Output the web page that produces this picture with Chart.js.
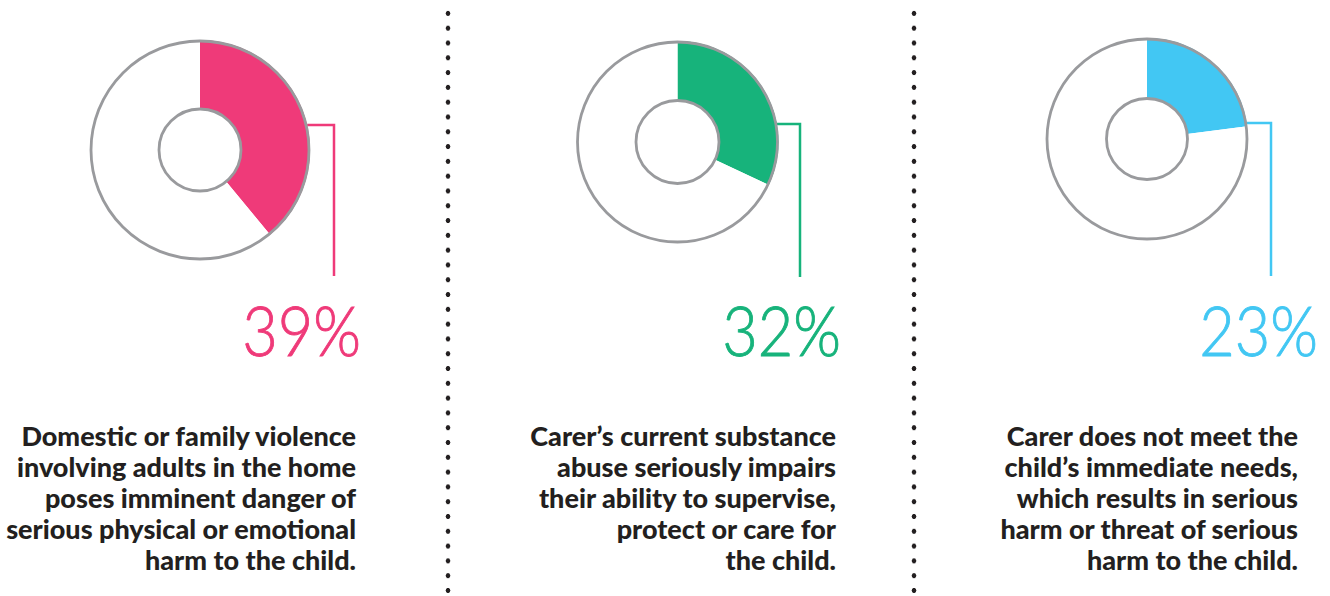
<!DOCTYPE html>
<html>
<head>
<meta charset="utf-8">
<script src="https://cdn.jsdelivr.net/npm/chart.js@4"></script>
<style>
  html, body { margin: 0; padding: 0; background: #fff; }
  body { width: 1330px; height: 596px; position: relative; overflow: hidden; }
  canvas { position: absolute; top: 0; }
  .pct {
    position: absolute; font-family: Lato, sans-serif; font-weight: 300;
    font-size: 68px; line-height: 68px; white-space: nowrap;
    -webkit-text-stroke: 0.9px currentColor;
    transform: scaleX(0.9); transform-origin: right center; text-align: right;
  }
  .desc {
    position: absolute; font-family: Lato, sans-serif; font-weight: 900;
    font-size: 27px; line-height: 31px; color: #231f20;
    white-space: pre-line; text-align: right;
  }
  .dots {
    position: absolute; top: 6px; width: 8px; height: 590px;
    background-image: radial-gradient(circle, #231f20 2.1px, transparent 2.7px);
    background-size: 8px 14.8px;
  }
</style>
</head>
<body>
<div class="dots" style="left:444px"></div>
<div class="dots" style="left:910px"></div>
<script>
const categories = [
  'Domestic or family violence\ninvolving adults in the home\nposes imminent danger of\nserious physical or emotional\nharm to the child.',
  'Carer\u2019s current substance\nabuse seriously impairs\ntheir ability to supervise,\nprotect or care for\nthe child.',
  'Carer does not meet the\nchild\u2019s immediate needs,\nwhich results in serious\nharm or threat of serious\nharm to the child.'
];
const percentages = [39, 32, 23];
const sliceColors = ['#ef3a79', '#17b37b', '#42c7f3'];

// panel layout: donut centre/radius, leader line, text anchors
const panels = [
  { left: 0,   width: 440, cx: 200,   cy: 150, r: 110, hole: 41,   leaderY: 125, leaderX: 334,  leaderEnd: 276, pctRight: 969, descRight: 974 },
  { left: 460, width: 440, cx: 677.5, cy: 142, r: 101, hole: 41.5, leaderY: 124, leaderX: 800,  leaderEnd: 277, pctRight: 489, descRight: 494 },
  { left: 925, width: 405, cx: 1147,  cy: 139, r: 101, hole: 40.5, leaderY: 123, leaderX: 1271, leaderEnd: 276, pctRight: 12,  descRight: 32 }
];
const canvasH = 300;
const ringGrey = '#999a9d';

const ringPlugin = {
  id: 'ringOutline',
  afterDatasetsDraw(chart, args, opts) {
    const arc = chart.getDatasetMeta(0).data[0];
    const ctx = chart.ctx;
    const x = arc.x, y = arc.y;
    ctx.save();
    // leader line from outer edge to the value
    const dy = y - opts.leaderY;
    const sx = x + Math.sqrt(arc.outerRadius * arc.outerRadius - dy * dy);
    ctx.strokeStyle = opts.color;
    ctx.lineWidth = 2.5;
    ctx.beginPath();
    ctx.moveTo(sx, opts.leaderY);
    ctx.lineTo(opts.leaderX, opts.leaderY);
    ctx.lineTo(opts.leaderX, opts.leaderEnd);
    ctx.stroke();
    // outer and inner circles
    ctx.strokeStyle = ringGrey;
    ctx.lineWidth = 2.8;
    ctx.beginPath();
    ctx.arc(x, y, arc.outerRadius - 1, 0, Math.PI * 2);
    ctx.stroke();
    ctx.beginPath();
    ctx.arc(x, y, arc.innerRadius, 0, Math.PI * 2);
    ctx.stroke();
    ctx.restore();
  }
};

panels.forEach((p, i) => {
  const canvas = document.createElement('canvas');
  canvas.width = p.width;
  canvas.height = canvasH;
  canvas.style.left = p.left + 'px';
  document.body.appendChild(canvas);

  const localX = p.cx - p.left;
  new Chart(canvas.getContext('2d'), {
    type: 'doughnut',
    data: {
      labels: [categories[i], ''],
      datasets: [{
        data: [percentages[i], 100 - percentages[i]],
        backgroundColor: [sliceColors[i], '#ffffff'],
        borderWidth: 0
      }]
    },
    options: {
      responsive: false,
      devicePixelRatio: 1,
      animation: false,
      events: [],
      cutout: p.hole,
      layout: {
        padding: {
          left: localX - p.r,
          right: p.width - localX - p.r,
          top: p.cy - p.r,
          bottom: canvasH - p.cy - p.r
        }
      },
      plugins: {
        legend: { display: false },
        tooltip: { enabled: false },
        ringOutline: {
          color: sliceColors[i],
          leaderY: p.leaderY,
          leaderX: p.leaderX - p.left,
          leaderEnd: p.leaderEnd
        }
      }
    },
    plugins: [ringPlugin]
  });

  const pct = document.createElement('div');
  pct.className = 'pct';
  pct.style.right = p.pctRight + 'px';
  pct.style.top = '296px';
  pct.style.color = sliceColors[i];
  pct.textContent = percentages[i] + '%';
  document.body.appendChild(pct);

  const desc = document.createElement('div');
  desc.className = 'desc';
  desc.style.right = p.descRight + 'px';
  desc.style.top = '420px';
  desc.textContent = categories[i];
  document.body.appendChild(desc);
});
</script>
</body>
</html>
